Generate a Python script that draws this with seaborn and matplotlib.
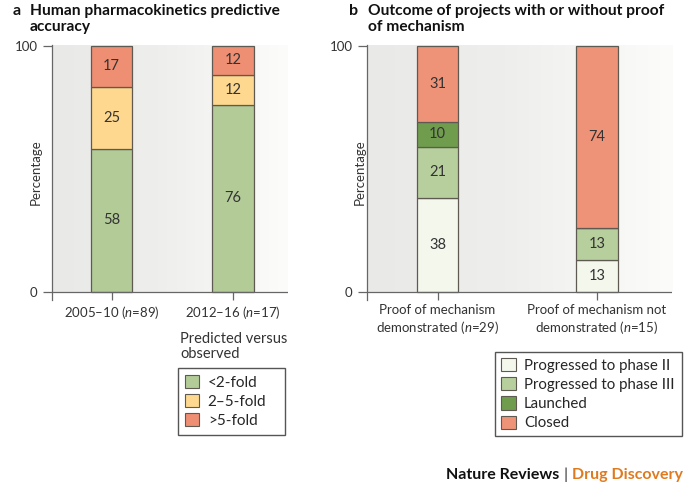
import numpy as np
import matplotlib
matplotlib.use("Agg")
import matplotlib.pyplot as plt
from matplotlib.patches import Patch
import seaborn as sns

# panel a data
periods = ["2005–10 ($n$=89)", "2012–16 ($n$=17)"]
pk_labels = ["<2-fold", "2–5-fold", ">5-fold"]
pk_values = [[58, 76], [25, 12], [17, 12]]
pk_colors = ["#b2cb97", "#fdd88e", "#ee8e73"]

# panel b data
groups = ["Proof of mechanism\ndemonstrated ($n$=29)",
          "Proof of mechanism not\ndemonstrated ($n$=15)"]
out_labels = ["Progressed to phase II", "Progressed to phase III", "Launched", "Closed"]
out_values = [[38, 13], [21, 13], [10, 0], [31, 74]]
out_colors = ["#f4f7ec", "#b6cf9c", "#6f9d4d", "#ef9378"]

sns.set_style("white")
plt.rcParams["font.family"] = ["Lato", "DejaVu Sans"]
plt.rcParams["mathtext.fontset"] = "custom"
plt.rcParams["mathtext.it"] = "Lato:italic"
plt.rcParams["mathtext.rm"] = "Lato"

edge = "#5e5a52"
txt = "#333333"

fig = plt.figure(figsize=(6.85, 4.87), dpi=100)
ax1 = fig.add_axes([0.0759, 0.3838, 0.3445, 0.5242])
ax2 = fig.add_axes([0.5358, 0.3838, 0.4453, 0.5242])

grad = np.linspace(0, 1, 512).reshape(1, -1)
bg = matplotlib.colors.LinearSegmentedColormap.from_list(
    "bg", [(0, "#e9e9e7"), (0.45, "#eeeeec"), (1, "#fcfcfb")])


def stacked(ax, cats, values, colors, width, xlim, label_x):
    ax.set_xlim(*xlim)
    ax.set_ylim(-3.3, 100.3)
    ax.imshow(grad, cmap=bg, aspect="auto", extent=[xlim[0], xlim[1], 0, 100],
              zorder=0, interpolation="bilinear")
    cum = np.zeros(len(cats))
    for vals, c in zip(values, colors):
        sns.barplot(x=cats, y=vals, bottom=cum, color=c, saturation=1,
                    width=width, edgecolor=edge, linewidth=0.9, ax=ax, zorder=2)
        cont = ax.containers[-1]
        ax.bar_label(cont, labels=[str(v) if v else "" for v in vals],
                     label_type="center", fontsize=10.5, color=txt)
        cum = cum + np.array(vals)
    ax.set_xlim(*xlim)
    ax.axhline(0, color="#666666", lw=0.9, zorder=3)
    for s in ["top", "right", "bottom"]:
        ax.spines[s].set_visible(False)
    ax.spines["left"].set_color("#666666")
    ax.spines["left"].set_linewidth(0.9)
    ax.set_yticks([0, 100])
    ax.tick_params(axis="y", direction="out", length=6.5, width=0.9,
                   color="#666666", labelsize=9.5, labelcolor=txt, pad=4, left=True)
    ax.tick_params(axis="x", direction="in", length=5.5, width=0.9,
                   color="#666666", labelsize=9.5, labelcolor=txt, pad=3, bottom=True)
    ax.set_ylabel("Percentage", fontsize=9.5, color=txt)
    ax.yaxis.set_label_coords(label_x, 0.5)
    ax.set_xlabel("")


stacked(ax1, periods, pk_values, pk_colors, 0.342, (-0.49, 1.453), -0.045)
stacked(ax2, groups, out_values, out_colors, 0.26, (-0.442, 1.47), -0.003)

# titles
fig.text(13 / 685, 1 - 4 / 487, "a", fontsize=11.5, fontweight="bold", va="top", color="#111111")
fig.text(30 / 685, 1 - 4 / 487, "Human pharmacokinetics predictive\naccuracy",
         fontsize=11.2, fontweight="bold", va="top", linespacing=1.2, color="#111111")
fig.text(349 / 685, 1 - 4 / 487, "b", fontsize=11.5, fontweight="bold", va="top", color="#111111")
fig.text(368 / 685, 1 - 4 / 487, "Outcome of projects with or without proof\nof mechanism",
         fontsize=11.2, fontweight="bold", va="top", linespacing=1.2, color="#111111")

# legends
fig.text(180 / 685, 1 - 332 / 487, "Predicted versus\nobserved", fontsize=10.5,
         va="top", linespacing=1.05, color=txt)
h1 = [Patch(facecolor=c, edgecolor=edge, lw=0.8) for c in pk_colors]
fig.legend(h1, pk_labels, loc="upper left",
           bbox_to_anchor=(178 / 685, 1 - 434 / 487, 107 / 685, 66 / 487), mode="expand",
           borderaxespad=0, fontsize=11, frameon=True, fancybox=False,
           edgecolor="#555555", handlelength=0.95, handleheight=0.95,
           handletextpad=0.55, labelspacing=0.28, borderpad=0.45, framealpha=1)
h2 = [Patch(facecolor=c, edgecolor=edge, lw=0.8) for c in out_colors]
fig.legend(h2, out_labels, loc="upper left",
           bbox_to_anchor=(495 / 685, 1 - 434 / 487, 187 / 685, 82 / 487), mode="expand",
           borderaxespad=0, fontsize=10.8, frameon=True, fancybox=False,
           edgecolor="#555555", handlelength=0.97, handleheight=0.97,
           handletextpad=0.55, labelspacing=0.3, borderpad=0.4, framealpha=1)

# footer
fig.canvas.draw()
r = fig.canvas.get_renderer()
t1 = fig.text(683 / 685, 1 - 479 / 487, "Drug Discovery", fontsize=11.5,
              fontweight="bold", color="#e07a1f", ha="right", va="baseline")
w = t1.get_window_extent(r).x0 / fig.bbox.width
t2 = fig.text(w - 0.006, 1 - 479 / 487, "|", fontsize=11.5, color="#333333",
              ha="right", va="baseline")
w2 = t2.get_window_extent(r).x0 / fig.bbox.width
fig.text(w2 - 0.006, 1 - 479 / 487, "Nature Reviews", fontsize=11.5,
         fontweight="bold", color="#111111", ha="right", va="baseline")

fig.savefig("out.png", dpi=100)
